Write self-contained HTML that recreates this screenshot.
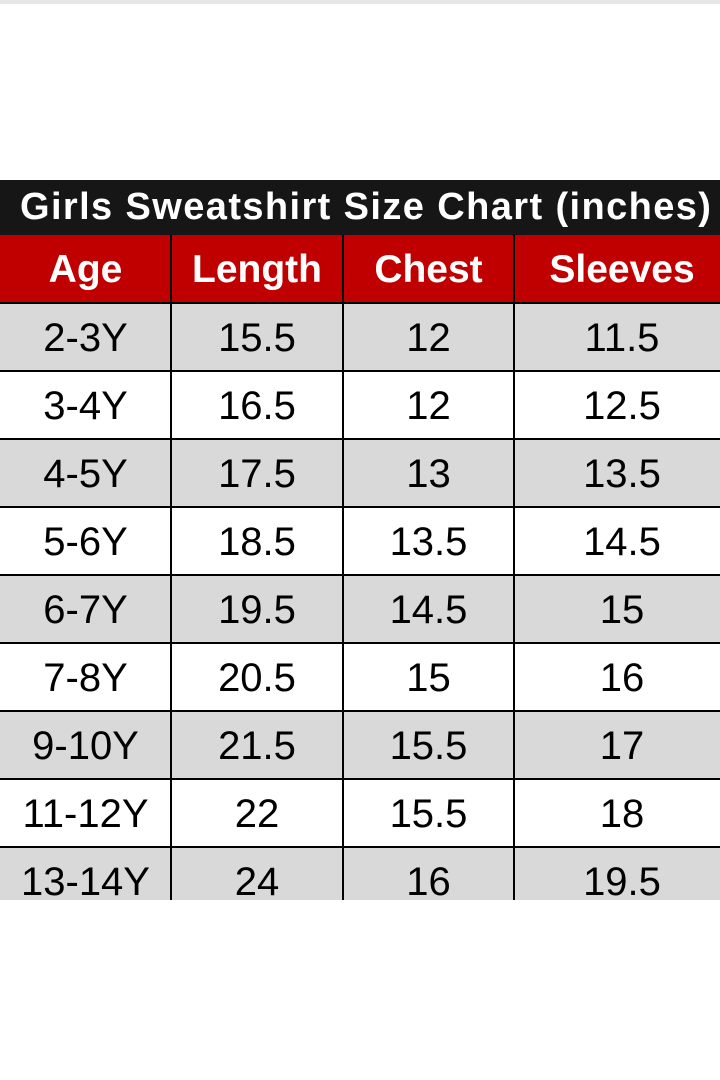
<!DOCTYPE html>
<html><head><style>
body{margin:0;width:720px;height:1080px;background:#fff;position:relative;overflow:hidden;font-family:"Liberation Sans",Arial,sans-serif}
.topline{position:absolute;left:0;top:0;width:720px;height:4px;background:#e6e6e6}
.title{position:absolute;left:0;top:180px;width:720px;height:55px;background:#161616;color:#fff;font-weight:bold;font-size:38px;line-height:55px;white-space:nowrap;padding-left:20px;box-sizing:border-box;letter-spacing:1.4px}
.row{position:absolute;left:0;width:720px;height:68px;overflow:hidden;border-top:2px solid #000;box-sizing:border-box}
.row div{position:absolute;top:0;height:68px;line-height:68px;text-align:center;font-size:40px;color:#000}
.g{background:#d9d9d9}.w{background:#fff}
.hd{background:#c00000;border-top:none}
.hd div{color:#fff;font-weight:bold;font-size:39px;line-height:70px}
.c1{left:0;width:171px}.c2{left:171px;width:172px}.c3{left:343px;width:171px}.c4{left:514px;width:206px;padding-left:10px;box-sizing:border-box}
.vl{position:absolute;width:2px;background:#000;top:235px;height:665px}
</style></head><body>
<div class="topline"></div>
<div class="title">Girls Sweatshirt Size Chart (inches)</div>
<div class="row hd" style="top:235px"><div class="c1">Age</div><div class="c2">Length</div><div class="c3">Chest</div><div class="c4">Sleeves</div></div>
<div class="row g" style="top:302px"><div class="c1">2-3Y</div><div class="c2">15.5</div><div class="c3">12</div><div class="c4">11.5</div></div>
<div class="row w" style="top:370px"><div class="c1">3-4Y</div><div class="c2">16.5</div><div class="c3">12</div><div class="c4">12.5</div></div>
<div class="row g" style="top:438px"><div class="c1">4-5Y</div><div class="c2">17.5</div><div class="c3">13</div><div class="c4">13.5</div></div>
<div class="row w" style="top:506px"><div class="c1">5-6Y</div><div class="c2">18.5</div><div class="c3">13.5</div><div class="c4">14.5</div></div>
<div class="row g" style="top:574px"><div class="c1">6-7Y</div><div class="c2">19.5</div><div class="c3">14.5</div><div class="c4">15</div></div>
<div class="row w" style="top:642px"><div class="c1">7-8Y</div><div class="c2">20.5</div><div class="c3">15</div><div class="c4">16</div></div>
<div class="row g" style="top:710px"><div class="c1">9-10Y</div><div class="c2">21.5</div><div class="c3">15.5</div><div class="c4">17</div></div>
<div class="row w" style="top:778px"><div class="c1">11-12Y</div><div class="c2">22</div><div class="c3">15.5</div><div class="c4">18</div></div>
<div class="row g" style="top:846px;height:54px"><div class="c1">13-14Y</div><div class="c2">24</div><div class="c3">16</div><div class="c4">19.5</div></div>
<div class="vl" style="left:170px"></div>
<div class="vl" style="left:342px"></div>
<div class="vl" style="left:513px"></div>
</body></html>
